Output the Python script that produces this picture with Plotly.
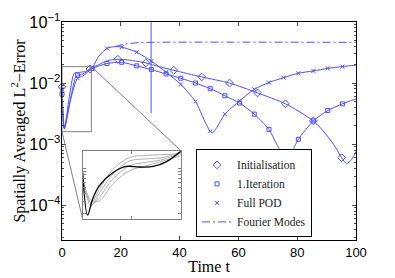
import math
import plotly.graph_objects as go

# ---------------- data ----------------
# Initialisation (diamonds)
init_t = [0, 0.8, 2.5, 4.2, 6, 8, 9.5, 12.5, 15.5, 19, 24, 28.5, 33, 38, 47.5, 57, 66.5, 76, 85.5, 90, 93, 95.1, 96.8, 98.5, 100]
init_v = [0.0087, 0.0018, 0.0060, 0.0145, 0.0150, 0.0155, 0.0170, 0.0200, 0.0234, 0.0245, 0.0234, 0.0214, 0.0186,
          0.0162, 0.0126, 0.0100, 0.0069, 0.00457, 0.0024, 0.00141, 0.00089, 0.00060, 0.00048, 0.00056, 0.00076]
init_marker_t = [0, 9.5, 19, 28.5, 38, 47.5, 57, 66.5, 76, 85.5, 95.1]

# 1.Iteration (squares)
iter_t = [0, 0.8, 2.7, 4.5, 5.3, 7, 10.3, 15.3, 20.3, 25.4, 30.4, 35.4, 40.4, 45.4, 50.4, 55.4, 60.4, 65.4, 70.4, 73,
          75.4, 76.5, 78, 80.4, 85.5, 90.4, 95.4, 100]
iter_v = [0.0066, 0.0018, 0.0050, 0.0120, 0.0135, 0.0140, 0.0174, 0.0209, 0.0219, 0.0191, 0.0166, 0.0141, 0.0120,
          0.0100, 0.0081, 0.0062, 0.0047, 0.0031, 0.00174, 0.0010, 0.00065, 0.00059, 0.00072, 0.0012, 0.0024,
          0.00355, 0.00457, 0.0055]
iter_marker_t = [0, 5.3, 10.3, 15.3, 20.3, 25.4, 30.4, 35.4, 40.4, 45.4, 50.4, 55.4, 60.4, 65.4, 70.4, 75.4, 80.4,
                 85.5, 90.4, 95.4]

# Full POD (x)
pod_t = [0, 0.8, 3, 5.3, 7, 10.3, 12.5, 15.3, 18, 20.3, 25.4, 30.4, 35.4, 40.4, 45.4, 48.5, 50.4, 51.3, 52.5,
         55.4, 60.4, 65.4, 70.4, 75.4, 80.4, 85.5, 90.4, 95.4, 100]
pod_v = [0.0079, 0.0018, 0.0055, 0.0120, 0.0130, 0.0178, 0.0275, 0.0370, 0.0395, 0.0388, 0.0320, 0.0229,
         0.0151, 0.0095, 0.0050, 0.0024, 0.00162, 0.00155, 0.00182, 0.0031, 0.0051, 0.0079, 0.0102, 0.0123, 0.0145,
         0.0158, 0.0174, 0.0186, 0.0197]
pod_marker_t = [0, 5.3, 10.3, 15.3, 20.3, 25.4, 30.4, 35.4, 40.4, 45.4, 50.4, 55.4, 60.4, 65.4, 70.4, 75.4, 80.4,
                85.5, 90.4, 95.4]

# Fourier Modes (dash-dot)
four_t = [18, 21, 25, 30, 100]
four_v = [0.0395, 0.0430, 0.0455, 0.0464, 0.0464]

# vertical marker line
vline_t = [30.3, 30.3]
vline_v = [0.0032, 0.1]

# zoom rectangle (main axes)
zoom_t = [0, 10]
zoom_v = [0.0016, 0.0186]

# inset curves
inset_black_t = [0, 0.5, 1.0, 1.7, 3.1, 4.45, 5.8, 7.2, 8.55, 10]
inset_black_v = [0.00853, 0.00188, 0.00329, 0.00536, 0.00853, 0.0106, 0.0104, 0.0106, 0.0126, 0.0182]
inset_gray_t = [
    [0, 0.85, 1.7, 3.1, 4.8, 6.5, 10],
    [0, 0.85, 1.7, 3.1, 4.8, 6.5, 8.2, 10],
    [0, 0.9, 1.7, 3.1, 4.8, 6.5, 8.2, 10],
    [0, 0.9, 1.7, 3.1, 4.8, 6.5, 8.2, 10],
]
inset_gray_v = [
    [0.00736, 0.00291, 0.00474, 0.00964, 0.0146, 0.0157, 0.0165],
    [0.00702, 0.00264, 0.00410, 0.00812, 0.0129, 0.0139, 0.0146, 0.0177],
    [0.00668, 0.00277, 0.00354, 0.00685, 0.0109, 0.0123, 0.0136, 0.0173],
    [0.00637, 0.00313, 0.00313, 0.00577, 0.00918, 0.0109, 0.0129, 0.0157],
]

x_ticks = [0, 20, 40, 60, 80, 100]

# ---------------- styling ----------------
BLUE = "#4f4fff"
GRAY = "#808080"
SERIF = "Liberation Serif"
SANS = "Liberation Sans"

X_RANGE = [0, 100]
Y_RANGE = [-4.57, -1]
INSET_X = [0.0704, 0.404]
INSET_Y = [0.095, 0.41]


def pick(ts, vs, keep):
    return [t for t in ts if t in keep], [v for t, v in zip(ts, vs) if t in keep]


fig = go.Figure()

series = [
    ("Initialisation", init_t, init_v, init_marker_t, "diamond-open", 6),
    ("1.Iteration", iter_t, iter_v, iter_marker_t, "square-open", 4),
    ("Full POD", pod_t, pod_v, pod_marker_t, "x-thin-open", 4),
]
for name, ts, vs, mk, sym, size in series:
    fig.add_trace(go.Scatter(x=ts, y=vs, mode="lines", line=dict(color=BLUE, width=1, shape="spline", smoothing=0.7),
                             showlegend=False, hoverinfo="skip"))
for name, ts, vs, mk, sym, size in series:
    mt, mv = pick(ts, vs, mk)
    fig.add_trace(go.Scatter(x=mt, y=mv, mode="markers", name=name, cliponaxis=False,
                             marker=dict(symbol=sym, size=size, color=BLUE, line=dict(color=BLUE, width=1))))

fig.add_trace(go.Scatter(x=four_t, y=four_v, mode="lines", name="Fourier Modes",
                         line=dict(color=BLUE, width=1, dash="8px,3px,2px,3px", shape="spline")))
fig.add_trace(go.Scatter(x=vline_t, y=vline_v, mode="lines", line=dict(color=BLUE, width=1), showlegend=False))

# zoom rectangle
fig.add_trace(go.Scatter(x=[zoom_t[0], zoom_t[1], zoom_t[1], zoom_t[0], zoom_t[0]],
                         y=[zoom_v[0], zoom_v[0], zoom_v[1], zoom_v[1], zoom_v[0]],
                         mode="lines", line=dict(color=GRAY, width=1), showlegend=False, hoverinfo="skip"))

# inset
for ts, vs in zip(inset_gray_t, inset_gray_v):
    fig.add_trace(go.Scatter(x=ts, y=vs, mode="lines", xaxis="x2", yaxis="y2",
                             line=dict(color="#b0b0b0", width=1, shape="spline"), showlegend=False))
fig.add_trace(go.Scatter(x=inset_black_t, y=inset_black_v, mode="lines", xaxis="x2", yaxis="y2",
                         line=dict(color="black", width=1.3, shape="spline"), showlegend=False))


def px(t):
    return (t - X_RANGE[0]) / (X_RANGE[1] - X_RANGE[0])


def py(v):
    return (math.log10(v) - Y_RANGE[0]) / (Y_RANGE[1] - Y_RANGE[0])


shapes = [
    dict(type="line", xref="paper", yref="paper", x0=px(zoom_t[0]), y0=py(zoom_v[0]), x1=INSET_X[0], y1=INSET_Y[0],
         line=dict(color=GRAY, width=1)),
    dict(type="line", xref="paper", yref="paper", x0=px(zoom_t[1]), y0=py(zoom_v[1]), x1=INSET_X[1], y1=INSET_Y[1],
         line=dict(color=GRAY, width=1)),
]

# the page body adds an 8px offset, so the figure is 8px smaller and margins are shifted
fig.update_layout(
    width=387, height=270,
    margin=dict(l=54, r=39, t=14, b=38, autoexpand=False),
    paper_bgcolor="white", plot_bgcolor="white",
    shapes=shapes,
    showlegend=True,
    legend=dict(x=0.456, y=0.012, xanchor="left", yanchor="bottom",
                bgcolor="white", bordercolor="black", borderwidth=1,
                font=dict(family=SERIF, size=11.5, color="#222"), tracegroupgap=0, itemwidth=30),
    xaxis=dict(range=X_RANGE, tickvals=x_ticks, ticks="inside", ticklen=4, mirror="ticks", showline=True,
               linecolor="black", linewidth=1, showgrid=False, zeroline=False, automargin=False,
               tickfont=dict(family=SANS, size=13, color="black"),
               title=dict(text="Time t", font=dict(family=SERIF, size=16, color="black"), standoff=2)),
    yaxis=dict(type="log", range=Y_RANGE, dtick=1, exponentformat="power", ticks="inside", ticklen=4,
               mirror="ticks", showline=True, linecolor="black", linewidth=1, showgrid=False, zeroline=False,
               automargin=False, ticklabelstandoff=-2,
               tickfont=dict(family=SANS, size=13, color="black"),
               minor=dict(ticks="inside", ticklen=2, showgrid=False),
               title=dict(text="Spatially Averaged L<sup>2</sup>\u2212Error",
                          font=dict(family=SERIF, size=16, color="black"), standoff=6)),
    xaxis2=dict(domain=INSET_X, anchor="y2", range=[0, 10], tickvals=[0, 5, 10], ticks="inside", ticklen=3,
                showticklabels=False, showline=True, linecolor=GRAY, mirror="ticks", tickcolor=GRAY,
                showgrid=False, zeroline=False),
    yaxis2=dict(domain=INSET_Y, anchor="x2", type="log", range=[-2.79, -1.73], ticks="inside", ticklen=3,
                showticklabels=False, showline=True, linecolor=GRAY, mirror="ticks", tickcolor=GRAY,
                showgrid=False, zeroline=False),
)

fig.write_html("out.html")
